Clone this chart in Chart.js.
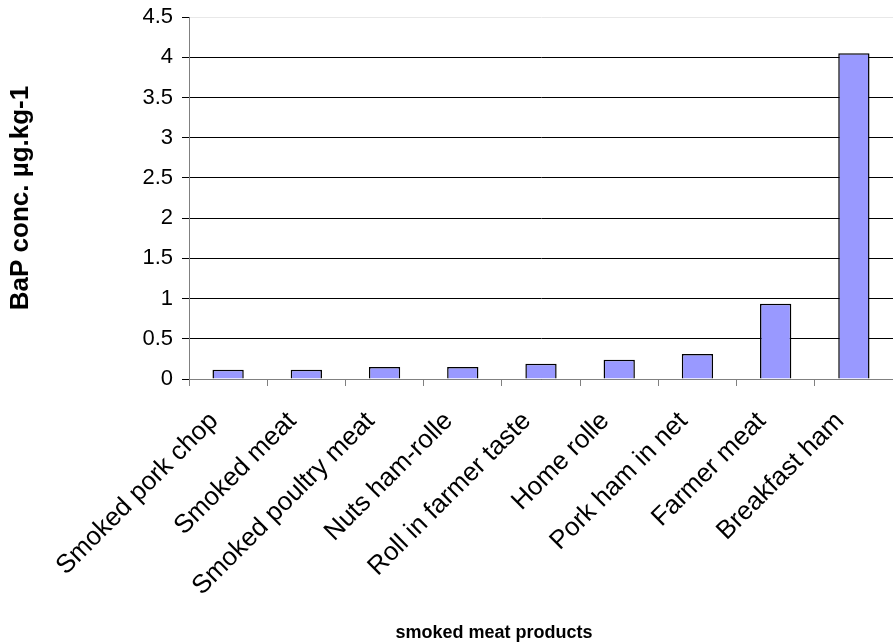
<!DOCTYPE html>
<html>
<head>
<meta charset="utf-8">
<script src="https://cdn.jsdelivr.net/npm/chart.js@4"></script>
<style>
    body { margin: 0; background: #fff; }
    #chart { display: block; }
</style>
</head>
<body>
<canvas id="chart" width="893" height="643"></canvas>
<script>
// data
const products = [
    'Smoked pork chop',
    'Smoked meat',
    'Smoked poultry meat',
    'Nuts ham-rolle',
    'Roll in farmer taste',
    'Home rolle',
    'Pork ham in net',
    'Farmer meat',
    'Breakfast ham'
];
const bapConc = [0.115, 0.115, 0.15, 0.15, 0.19, 0.24, 0.31, 0.935, 4.05];
const yTicks = [0, 0.5, 1, 1.5, 2, 2.5, 3, 3.5, 4, 4.5];
const xTitle = 'smoked meat products';

const font = "'Liberation Sans', Arial, sans-serif";

// draws the x axis title a bit left of the plot centre, like the original
const xTitlePlugin = {
    id: 'xTitle',
    afterDraw(chart) {
        const c = chart.ctx;
        c.save();
        c.font = 'bold 18px ' + font;
        c.fillStyle = '#000';
        c.textAlign = 'center';
        c.textBaseline = 'alphabetic';
        c.fillText(xTitle, 494, 638);
        c.restore();
    }
};

// nudge the rotated category labels to the left so they end left of the tick
const labelShift = {
    id: 'labelShift',
    beforeDraw(chart) {
        const items = chart.scales.x.getLabelItems();
        if (items._shifted) return;
        items.forEach(it => { it.options.translation[0] -= 14; });
        items._shifted = true;
    }
};

const ctx = document.getElementById('chart').getContext('2d');
new Chart(ctx, {
    type: 'bar',
    data: {
        labels: products,
        datasets: [{
            data: bapConc,
            backgroundColor: '#9999ff',
            borderColor: '#000',
            borderWidth: 1.5,
            barPercentage: 0.4,
            categoryPercentage: 1
        }]
    },
    plugins: [xTitlePlugin, labelShift],
    options: {
        responsive: false,
        animation: false,
        layout: { padding: 0 },
        plugins: {
            legend: { display: false },
            tooltip: { enabled: false }
        },
        scales: {
            x: {
                afterFit: axis => {
                    axis.height = 643 - 379;
                    axis.paddingRight = 0;
                    axis.paddingLeft = 0;
                },
                grid: {
                    offset: true,
                    drawOnChartArea: false,
                    tickLength: 7,
                    color: '#808080'
                },
                border: { color: '#808080', width: 1 },
                ticks: {
                    color: '#000',
                    font: { family: font, size: 26 },
                    minRotation: 45,
                    maxRotation: 45,
                    padding: 20
                }
            },
            y: {
                min: 0,
                max: 4.5,
                afterFit: axis => {
                    axis.width = 189;
                    axis.paddingTop = 17;
                    axis.paddingBottom = 0;
                },
                afterBuildTicks: axis => {
                    axis.ticks = yTicks.map(v => ({ value: v }));
                },
                grid: {
                    tickLength: 7,
                    color: ctx => ctx.index === yTicks.length - 1 ? '#e8e8e8' : '#000',
                    tickColor: '#000'
                },
                border: { color: '#808080', width: 1 },
                ticks: {
                    color: '#000',
                    font: { family: font, size: 22 },
                    padding: 9,
                    callback: v => String(v)
                },
                title: {
                    display: true,
                    text: 'BaP conc. µg.kg-1',
                    color: '#000',
                    font: { family: font, size: 26, weight: 'bold' },
                    padding: { top: 5, bottom: 0 }
                }
            }
        }
    }
});
</script>
</body>
</html>
